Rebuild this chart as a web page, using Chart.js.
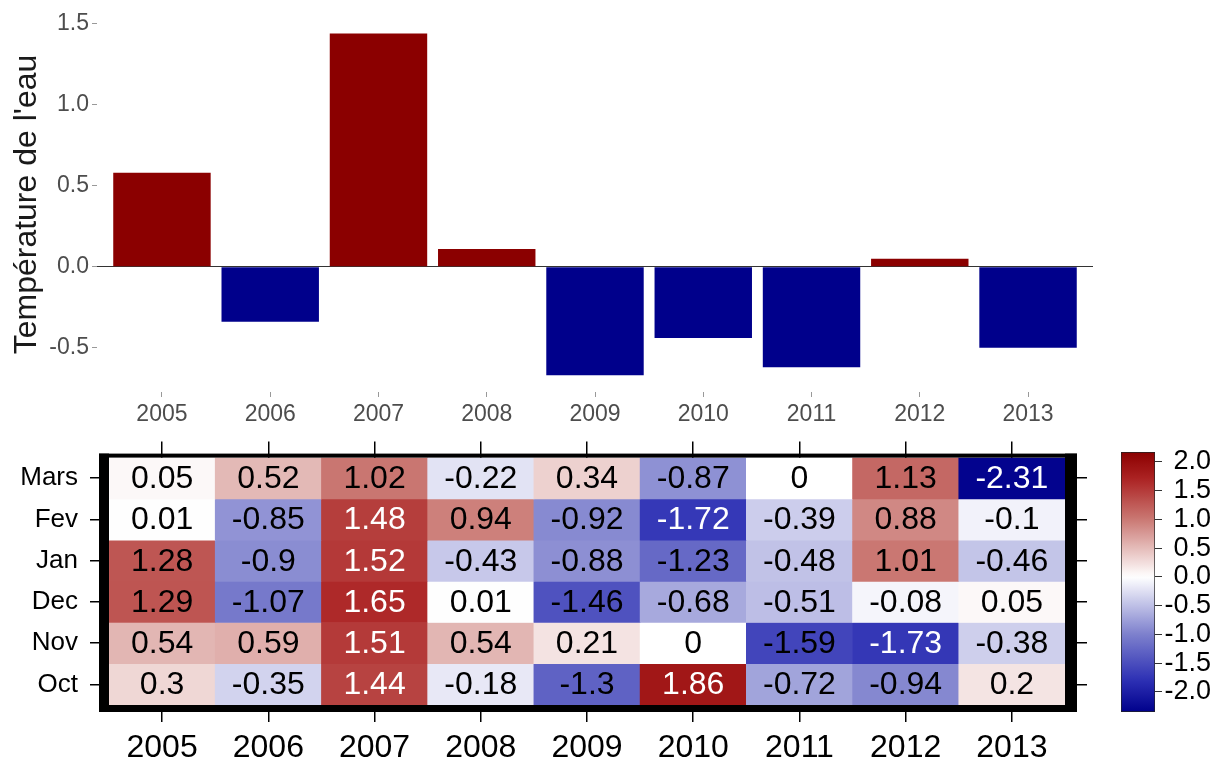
<!DOCTYPE html>
<html lang="fr">
<head>
<meta charset="utf-8">
<title>Température de l'eau</title>
<script src="https://cdn.jsdelivr.net/npm/chart.js@4.4.1/dist/chart.umd.min.js"></script>
<style>
  body { margin: 0; background: #fff; }
  #page { position: relative; width: 1221px; height: 762px; }
  canvas { position: absolute; }
  #barres { left: 0; top: 0; }
  #carte { left: 0; top: 430px; }
  #legende { left: 1100px; top: 430px; }
</style>
</head>
<body>
<div id="page">
  <canvas id="barres" width="1221" height="430"></canvas>
  <canvas id="carte" width="1100" height="332"></canvas>
  <canvas id="legende" width="121" height="332"></canvas>
</div>
<script>
const annees = ['2005', '2006', '2007', '2008', '2009', '2010', '2011', '2012', '2013'];
const moyennes = [0.58, -0.34, 1.44, 0.11, -0.67, -0.44, -0.62, 0.05, -0.50];
const ticksBarres = [-0.5, 0, 0.5, 1.0, 1.5];

const mois = ['Mars', 'Fev', 'Jan', 'Dec', 'Nov', 'Oct'];
const mars = [0.05, 0.52, 1.02, -0.22, 0.34, -0.87, 0, 1.13, -2.31];
const fev = [0.01, -0.85, 1.48, 0.94, -0.92, -1.72, -0.39, 0.88, -0.1];
const jan = [1.28, -0.9, 1.52, -0.43, -0.88, -1.23, -0.48, 1.01, -0.46];
const dec = [1.29, -1.07, 1.65, 0.01, -1.46, -0.68, -0.51, -0.08, 0.05];
const nov = [0.54, 0.59, 1.51, 0.54, 0.21, 0, -1.59, -1.73, -0.38];
const oct = [0.3, -0.35, 1.44, -0.18, -1.3, 1.86, -0.72, -0.94, 0.2];
const ticksLegende = [-2.0, -1.5, -1.0, -0.5, 0.0, 0.5, 1.0, 1.5, 2.0];

const tableau = [mars, fev, jan, dec, nov, oct];
const POLICE = '"Liberation Sans", Arial, sans-serif';
const LEG_MIN = -2.35, LEG_MAX = 2.17;

// palette bleu - blanc - rouge (points d'appui de la rampe)
const rampe = [
  [-2.35, [0, 0, 139]],
  [-1.8, [45, 48, 180]],
  [-1.0, [125, 128, 205]],
  [0, [255, 255, 255]],
  [1.0, [202, 120, 115]],
  [1.7, [172, 35, 35]],
  [2.17, [139, 0, 0]]
];

function couleur(v) {
  v = Math.max(LEG_MIN, Math.min(LEG_MAX, v));
  let k = 0;
  while (k < rampe.length - 2 && v > rampe[k + 1][0]) k++;
  const [v0, c0] = rampe[k];
  const [v1, c1] = rampe[k + 1];
  const f = (v - v0) / (v1 - v0);
  const c = c0.map((x, j) => Math.round(x + (c1[j] - x) * f));
  return `rgb(${c.join(',')})`;
}

// ---- graphique du haut : barres
new Chart(document.getElementById('barres'), {
  type: 'bar',
  data: {
    datasets: [{
      data: moyennes.map((v, i) => ({ x: i + 1, y: v })),
      backgroundColor: moyennes.map(v => v >= 0 ? '#8b0000' : '#00008b'),
      barPercentage: 0.9,
      categoryPercentage: 1
    }]
  },
  options: {
    responsive: false,
    animation: false,
    layout: { padding: { top: 17, right: 128, left: 0, bottom: 0 } },
    plugins: { legend: { display: false }, tooltip: { enabled: false } },
    scales: {
      x: {
        type: 'linear', min: 0.4, max: 9.6, offset: false,
        afterBuildTicks: s => { s.ticks = annees.map((a, i) => ({ value: i + 1 })); },
        afterFit: s => { s.height = 38; },
        border: { display: false },
        grid: { offset: false, drawOnChartArea: false, tickLength: 5, tickColor: '#999' },
        ticks: {
          padding: 4,
          autoSkip: false,
          maxRotation: 0,
          color: '#4d4d4d',
          font: { family: POLICE, size: 23 },
          callback: v => annees[v - 1]
        }
      },
      y: {
        min: -0.773, max: 1.542,
        afterBuildTicks: s => { s.ticks = ticksBarres.map(v => ({ value: v })); },
        afterFit: s => { s.width = 97; },
        border: { display: false },
        grid: {
          color: c => c.tick && c.tick.value === 0 ? '#333' : 'transparent',
          tickColor: '#999',
          tickLength: 5
        },
        ticks: {
          padding: 3,
          color: '#4d4d4d',
          font: { family: POLICE, size: 23 },
          callback: v => v.toFixed(1)
        },
        title: {
          display: true,
          text: "Température de l'eau",
          color: '#1a1a1a',
          font: { family: POLICE, size: 32 },
          padding: { top: 8, bottom: 0 }
        }
      }
    }
  }
});

// ---- carte de chaleur (barres flottantes superposées)
const textesCellules = {
  id: 'textesCellules',
  afterDatasetsDraw(chart) {
    const ctx = chart.ctx;
    const a = chart.chartArea;
    ctx.save();
    ctx.font = '32px ' + POLICE;
    ctx.textAlign = 'center';
    ctx.textBaseline = 'middle';
    tableau.forEach((ligne, r) => {
      chart.getDatasetMeta(r).data.forEach((el, i) => {
        const v = ligne[i];
        ctx.fillStyle = (v > 1.4 || v < -1.65) ? '#fff' : '#000';
        ctx.fillText(String(v), el.x, (el.y + el.base) / 2 + 1);
      });
    });
    // cadre noir épais
    ctx.fillStyle = '#000';
    ctx.fillRect(a.left - 10, a.top - 4, 10, a.bottom - a.top + 11);
    ctx.fillRect(a.left - 10, a.top - 4, a.right - a.left + 22, 4);
    ctx.fillRect(a.right, a.top - 4, 12, a.bottom - a.top + 11);
    ctx.fillRect(a.left - 10, a.bottom, a.right - a.left + 22, 7);
    ctx.restore();
  }
};

const axeMois = (pos, longueur, largeur, labels) => ({
  type: 'linear', position: pos, reverse: true, min: 0, max: 6,
  afterBuildTicks: s => { s.ticks = mois.map((m, r) => ({ value: r + 0.5 })); },
  afterFit: s => { s.width = largeur; },
  border: { display: false },
  grid: { drawOnChartArea: false, tickLength: longueur, tickColor: '#000', lineWidth: 1.5 },
  ticks: {
    display: labels,
    autoSkip: false,
    padding: 12,
    color: '#000',
    font: { family: POLICE, size: 26 },
    callback: v => mois[Math.floor(v)]
  }
});

const axeAnnees = (pos, longueur, hauteur, labels) => ({
  type: 'linear', position: pos, min: 0.5, max: 9.5, offset: false,
  afterBuildTicks: s => { s.ticks = annees.map((a, i) => ({ value: i + 1 })); },
  afterFit: s => { s.height = hauteur; },
  border: { display: false },
  grid: { offset: false, drawOnChartArea: false, tickLength: longueur, tickColor: '#000', lineWidth: 1.5 },
  ticks: {
    display: labels,
    autoSkip: false,
    maxRotation: 0,
    padding: 7,
    color: '#000',
    font: { family: POLICE, size: 32 },
    callback: v => annees[v - 1]
  }
});

new Chart(document.getElementById('carte'), {
  type: 'bar',
  data: {
    datasets: tableau.map((ligne, r) => ({
      label: mois[r],
      data: ligne.map((v, i) => ({ x: i + 1, y: [r, r + 1] })),
      backgroundColor: ligne.map(couleur),
      grouped: false,
      barPercentage: 1,
      categoryPercentage: 1,
      xAxisID: 'x',
      yAxisID: 'y'
    }))
  },
  options: {
    responsive: false,
    animation: false,
    layout: { padding: 0 },
    plugins: { legend: { display: false }, tooltip: { enabled: false } },
    scales: {
      x: axeAnnees('bottom', 17, 57, true),
      x2: axeAnnees('top', 16, 26, false),
      y: axeMois('left', 19, 109, true),
      y2: axeMois('right', 22, 35, false)
    }
  },
  plugins: [textesCellules]
});

// ---- légende de couleurs
new Chart(document.getElementById('legende'), {
  type: 'bar',
  data: {
    labels: [''],
    datasets: [{
      data: [[LEG_MIN, LEG_MAX]],
      backgroundColor: c => {
        const a = c.chart.chartArea;
        if (!a) return '#fff';
        const g = c.chart.ctx.createLinearGradient(0, a.bottom, 0, a.top);
        for (let k = 0; k <= 60; k++) {
          g.addColorStop(k / 60, couleur(LEG_MIN + (LEG_MAX - LEG_MIN) * k / 60));
        }
        return g;
      },
      borderColor: '#222',
      borderWidth: 1,
      borderSkipped: false,
      barPercentage: 1,
      categoryPercentage: 1
    }]
  },
  options: {
    responsive: false,
    animation: false,
    layout: { padding: { left: 21, top: 22, bottom: 50, right: 10 } },
    plugins: { legend: { display: false }, tooltip: { enabled: false } },
    scales: {
      x: { display: false },
      y: {
        position: 'right', min: LEG_MIN, max: LEG_MAX,
        afterBuildTicks: s => { s.ticks = ticksLegende.map(v => ({ value: v })); },
        afterFit: s => { s.width = 56; },
        border: { display: false },
        grid: { drawOnChartArea: false, tickLength: 7, tickColor: '#333', lineWidth: 1 },
        ticks: {
          autoSkip: false,
          crossAlign: 'far',
          padding: 3,
          color: '#000',
          font: { family: POLICE, size: 27 },
          callback: v => v.toFixed(1)
        }
      }
    }
  }
});
</script>
</body>
</html>
